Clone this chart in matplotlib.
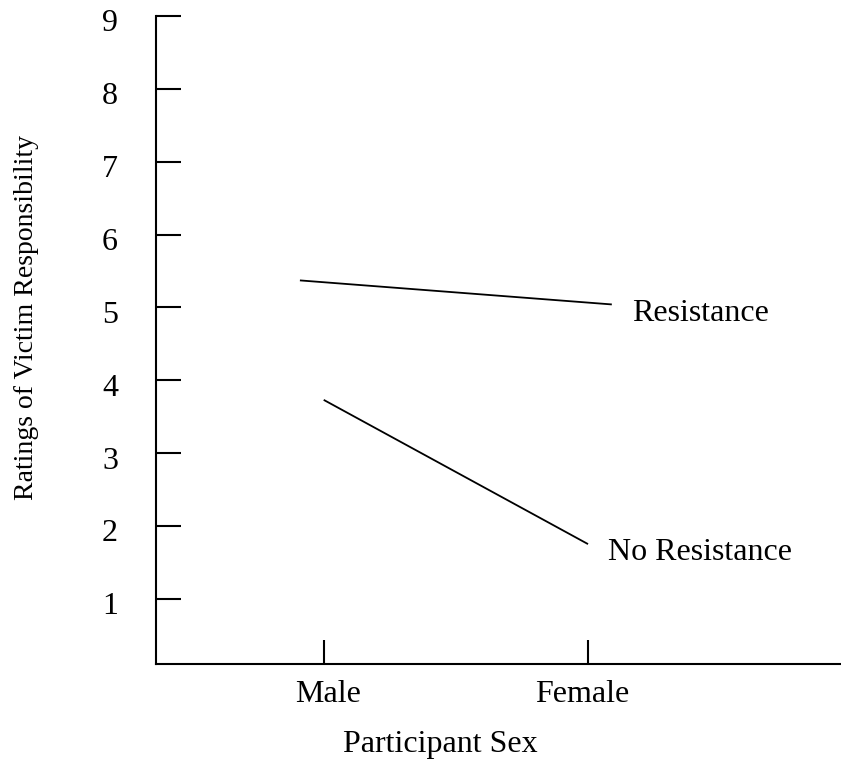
import matplotlib as mpl
import matplotlib.pyplot as plt
import matplotlib.transforms as mtransforms
from matplotlib.patches import Rectangle

mpl.rcParams['font.family'] = ['Liberation Serif', 'DejaVu Serif']

# Data
sex_labels = ['Male', 'Female']
sex_pos = [1, 2]
yticks = [1, 2, 3, 4, 5, 6, 7, 8, 9]

resistance_x = [0.91, 2.09]
resistance = [5.37, 5.04]
no_resistance_x = [1.0, 2.0]
no_resistance = [3.73, 1.75]

fig = plt.figure(figsize=(8.41, 7.64), dpi=100)
ax = fig.add_axes([0.185, 0.1305, 0.815, 0.8486])

ax.plot(resistance_x, resistance, color='black', lw=1.3, solid_capstyle='butt')
ax.plot(no_resistance_x, no_resistance, color='black', lw=1.3, solid_capstyle='butt')

# line labels, bottoms slightly cut off as in the original
t1 = ax.text(2.165, 4.81, 'Resistance', fontsize=23, ha='left', va='baseline')
t1.set_clip_path(Rectangle((2.0, 4.834), 1.5, 1.0, transform=ax.transData))
t2 = ax.text(2.077, 1.53, 'No Resistance', fontsize=23, ha='left', va='baseline')
t2.set_clip_path(Rectangle((2.0, 1.545), 1.5, 1.0, transform=ax.transData))

ax.set_xlim(0.364, 2.957)
ax.set_ylim(0.1, 9)

for s in ['top', 'right']:
    ax.spines[s].set_visible(False)
for s in ['left', 'bottom']:
    ax.spines[s].set_linewidth(1.5)

ax.set_yticks(yticks)
ax.set_yticklabels([str(v) for v in yticks], fontsize=23)
ax.set_xticks(sex_pos)
ax.set_xticklabels(sex_labels, fontsize=23)
ax.tick_params(axis='y', direction='in', length=18, width=1.5, pad=27)
ax.tick_params(axis='x', direction='in', length=17, width=1.5, pad=11)

# digits sit a little below their ticks in the original
down = mtransforms.ScaledTranslation(0, -4.5 / 100, fig.dpi_scale_trans)
for lab in ax.get_yticklabels():
    lab.set_transform(lab.get_transform() + down)
shifts = [4 / 100, -5.5 / 100]
for lab, dx in zip(ax.get_xticklabels(), shifts):
    lab.set_transform(lab.get_transform()
                      + mtransforms.ScaledTranslation(dx, 0, fig.dpi_scale_trans))

fig.text(440 / 841, 1 - 752 / 764, 'Participant Sex', fontsize=23,
         ha='center', va='baseline')
fig.text(27 / 841, 1 - 317 / 764, 'Ratings of Victim Responsibility',
         fontsize=20, rotation=90, ha='center', va='center')

fig.savefig('out.png', dpi=100)
